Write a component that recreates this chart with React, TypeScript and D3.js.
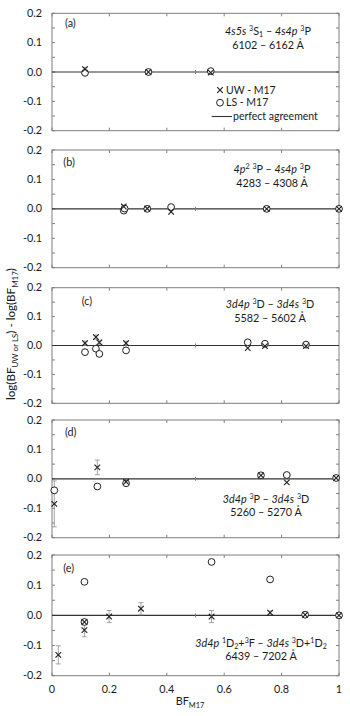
import React from 'react';
import * as d3 from 'd3';

// [BF_M17, log difference, error]
const uwA = [[0.115, 0.01, 0.006], [0.336, 0.0, 0.003], [0.553, -0.002, 0.003]];
const lsA = [[0.115, -0.003], [0.336, 0.0], [0.553, 0.003]];

const uwB = [[0.25, 0.008, 0.005], [0.332, 0.001, 0.003], [0.415, -0.01, 0], [0.748, 0.0, 0], [1.0, 0.0, 0]];
const lsB = [[0.25, -0.006], [0.253, 0.001], [0.332, 0.0], [0.415, 0.006], [0.748, 0.0], [1.0, 0.0]];

const uwC = [[0.115, 0.008, 0.007], [0.153, 0.029, 0.007], [0.165, 0.011, 0.007], [0.258, 0.008, 0.007], [0.682, -0.009, 0], [0.742, -0.002, 0], [0.885, -0.002, 0]];
const lsC = [[0.115, -0.023], [0.153, -0.011], [0.165, -0.029], [0.258, -0.017], [0.682, 0.011], [0.742, 0.006], [0.885, 0.003]];

const uwD = [[0.008, -0.085, 0.078], [0.158, 0.039, 0.025], [0.258, -0.01, 0.004], [0.728, 0.012, 0.003], [0.818, -0.012, 0], [0.99, 0.003, 0]];
const lsD = [[0.008, -0.039], [0.158, -0.026], [0.258, -0.015], [0.728, 0.012], [0.818, 0.013], [0.99, 0.003]];

const uwE = [[0.022, -0.131, 0.03], [0.113, -0.022, 0.006], [0.113, -0.049, 0.022], [0.199, -0.004, 0.02], [0.31, 0.022, 0.02], [0.556, -0.004, 0.02], [0.76, 0.009, 0.005], [0.882, 0.002, 0.008], [1.0, 0.0, 0]];
const lsE = [[0.113, 0.111], [0.113, -0.022], [0.556, 0.177], [0.76, 0.119], [0.882, 0.002], [1.0, 0.0]];

const panelLetters = ['(a)', '(b)', '(c)', '(d)', '(e)'];
const yTicks = [0.2, 0.1, 0.0, -0.1, -0.2];
const xTicks = [0, 0.2, 0.4, 0.6, 0.8, 1];

// segments: [text, kind] kind: '' normal, 'i' italic, 'sup', 'sub'
const titles = [
  [[['4s5s', 'i'], [' ', ''], ['3', 'sup'], ['S', ''], ['1', 'sub'], [' \u2013 ', ''], ['4s4p', 'i'], [' ', ''], ['3', 'sup'], ['P', '']], '6102 \u2013 6162 \u00c5'],
  [[['4p', 'i'], ['2', 'sup'], [' ', ''], ['3', 'sup'], ['P \u2013 ', ''], ['4s4p', 'i'], [' ', ''], ['3', 'sup'], ['P', '']], '4283 \u2013 4308 \u00c5'],
  [[['3d4p', 'i'], [' ', ''], ['3', 'sup'], ['D \u2013 ', ''], ['3d4s', 'i'], [' ', ''], ['3', 'sup'], ['D', '']], '5582 \u2013 5602 \u00c5'],
  [[['3d4p', 'i'], [' ', ''], ['3', 'sup'], ['P \u2013 ', ''], ['3d4s', 'i'], [' ', ''], ['3', 'sup'], ['D', '']], '5260 \u2013 5270 \u00c5'],
  [[['3d4p', 'i'], [' ', ''], ['1', 'sup'], ['D', ''], ['2', 'sub'], ['+', ''], ['3', 'sup'], ['F \u2013 ', ''], ['3d4s', 'i'], [' ', ''], ['3', 'sup'], ['D+', ''], ['1', 'sup'], ['D', ''], ['2', 'sub']], '6439 \u2013 7202 \u00c5'],
];

const uwSets = [uwA, uwB, uwC, uwD, uwE];
const lsSets = [lsA, lsB, lsC, lsD, lsE];

// layout
const panelTop = [13.3, 150, 287.7, 420, 555];
const panelBottom = [130.7, 267.7, 403.3, 537.7, 675.7];
const titlePos = [[268, 35], [272, 173], [270, 308.3], [266, 502.7], [261, 646.7]];
const letterPos = [[65, 26.7], [63.3, 166], [81.7, 305], [65, 436], [63.3, 572]];

const FONT = 'Lato, "Open Sans", sans-serif';
const AXIS = '#7f7f7f';
const MARK = '#1f1f1f';
const ERR = '#9a9a9a';

function Rich({ segs, x, y, size }: any) {
  let off = 0;
  const spans = segs.map((s: any, i: number) => {
    const [t, k] = s;
    let target = 0;
    if (k === 'sup') target = -size * 0.38;
    if (k === 'sub') target = size * 0.18;
    const dy = target - off;
    off = target;
    return (
      <tspan key={i} dy={dy}
        fontStyle={k === 'i' ? 'italic' : 'normal'}
        fontSize={k === 'sup' || k === 'sub' ? size * 0.66 : size}>{t}</tspan>
    );
  });
  return <text x={x} y={y} textAnchor="middle" fontFamily={FONT} fontSize={size} fill="#1a1a1a">{spans}</text>;
}

function Panel({ i }: { i: number }) {
  const x = d3.scaleLinear().domain([0, 1]).range([52, 339]);
  const y = d3.scaleLinear().domain([-0.2, 0.2]).range([panelBottom[i], panelTop[i]]);
  const minor = d3.range(-0.2, 0.2001, 0.05);
  const uw = uwSets[i];
  const ls = lsSets[i];
  const cs = 2.8;
  return (
    <g>
      <rect x={x(0)} y={y(0.2)} width={x(1) - x(0)} height={y(-0.2) - y(0.2)} fill="none" stroke={AXIS} strokeWidth={1} />
      {minor.map((v, k) => (
        <g key={k}>
          <line x1={x(0)} x2={x(0) + 3} y1={y(v)} y2={y(v)} stroke={AXIS} />
          <line x1={x(1)} x2={x(1) - 3} y1={y(v)} y2={y(v)} stroke={AXIS} />
        </g>
      ))}
      {xTicks.map((v, k) => (
        <g key={k}>
          <line x1={x(v)} x2={x(v)} y1={y(0.2)} y2={y(0.2) + 3} stroke={AXIS} />
          <line x1={x(v)} x2={x(v)} y1={y(-0.2)} y2={y(-0.2) - 3} stroke={AXIS} />
        </g>
      ))}
      {yTicks.map((v, k) => (
        <text key={k} x={42} y={y(v) + 3.6} textAnchor="end" fontFamily={FONT} fontSize={10.8} fill="#1a1a1a">{v.toFixed(1)}</text>
      ))}
      <line x1={x(0)} x2={x(1)} y1={y(0)} y2={y(0)} stroke="#333" strokeWidth={1.1} />
      <line x1={x(0.5)} x2={x(0.5)} y1={y(0) - 2} y2={y(0) + 2} stroke={AXIS} />
      {uw.map((d: any, k: number) => d[2] > 0 ? (
        <g key={k} stroke={ERR} strokeWidth={0.9}>
          <line x1={x(d[0])} x2={x(d[0])} y1={y(d[1] - d[2])} y2={y(d[1] + d[2])} />
          <line x1={x(d[0]) - 2.5} x2={x(d[0]) + 2.5} y1={y(d[1] - d[2])} y2={y(d[1] - d[2])} />
          <line x1={x(d[0]) - 2.5} x2={x(d[0]) + 2.5} y1={y(d[1] + d[2])} y2={y(d[1] + d[2])} />
        </g>
      ) : null)}
      {ls.map((d: any, k: number) => (
        <circle key={k} cx={x(d[0])} cy={y(d[1])} r={3.4} fill="white" stroke={MARK} strokeWidth={1} />
      ))}
      {uw.map((d: any, k: number) => (
        <path key={k} d={`M${x(d[0]) - cs},${y(d[1]) - cs}L${x(d[0]) + cs},${y(d[1]) + cs}M${x(d[0]) - cs},${y(d[1]) + cs}L${x(d[0]) + cs},${y(d[1]) - cs}`} stroke={MARK} strokeWidth={1.1} fill="none" />
      ))}
      <text x={letterPos[i][0]} y={letterPos[i][1]} fontFamily={FONT} fontSize={10.8} fill="#1a1a1a">{panelLetters[i]}</text>
      <Rich segs={titles[i][0]} x={titlePos[i][0]} y={titlePos[i][1]} size={10.8} />
      <text x={titlePos[i][0]} y={titlePos[i][1] + 13.6} textAnchor="middle" fontFamily={FONT} fontSize={10.8} fill="#1a1a1a">{titles[i][1]}</text>
      {i === 4 && xTicks.map((v, k) => (
        <text key={k} x={x(v)} y={693} textAnchor="middle" fontFamily={FONT} fontSize={10.8} fill="#1a1a1a">{String(v)}</text>
      ))}
    </g>
  );
}

export default function App() {
  const cs = 2.8;
  return (
    <svg width={350} height={716} style={{ position: 'absolute', left: 0, top: 0, background: 'white' }}>
      {[0, 1, 2, 3, 4].map(i => <Panel key={i} i={i} />)}
      {/* legend in panel (a) */}
      <path d={`M${220 - cs},${90 - cs}L${220 + cs},${90 + cs}M${220 - cs},${90 + cs}L${220 + cs},${90 - cs}`} stroke={MARK} strokeWidth={1.1} />
      <text x={226} y={93.5} fontFamily={FONT} fontSize={10.5} fill="#1a1a1a">UW - M17</text>
      <circle cx={220} cy={102.7} r={3.4} fill="white" stroke={MARK} strokeWidth={1} />
      <text x={226} y={106.2} fontFamily={FONT} fontSize={10.5} fill="#1a1a1a">LS - M17</text>
      <line x1={211.7} x2={232} y1={116.5} y2={116.5} stroke="#333" strokeWidth={1.1} />
      <text x={233} y={120} fontFamily={FONT} fontSize={10.5} fill="#1a1a1a">perfect agreement</text>
      {/* axis titles */}
      <text transform="translate(15,334) rotate(-90)" textAnchor="middle" fontFamily={FONT} fontSize={11.6} fill="#1a1a1a">
        log(BF<tspan dy={2.8} fontSize={8}>UW or LS</tspan><tspan dy={-2.8}>) - log(BF</tspan><tspan dy={2.8} fontSize={8}>M17</tspan><tspan dy={-2.8}>)</tspan>
      </text>
      <text x={190} y={705} textAnchor="middle" fontFamily={FONT} fontSize={10.8} fill="#1a1a1a">
        BF<tspan dy={2.6} fontSize={7.4}>M17</tspan>
      </text>
    </svg>
  );
}
